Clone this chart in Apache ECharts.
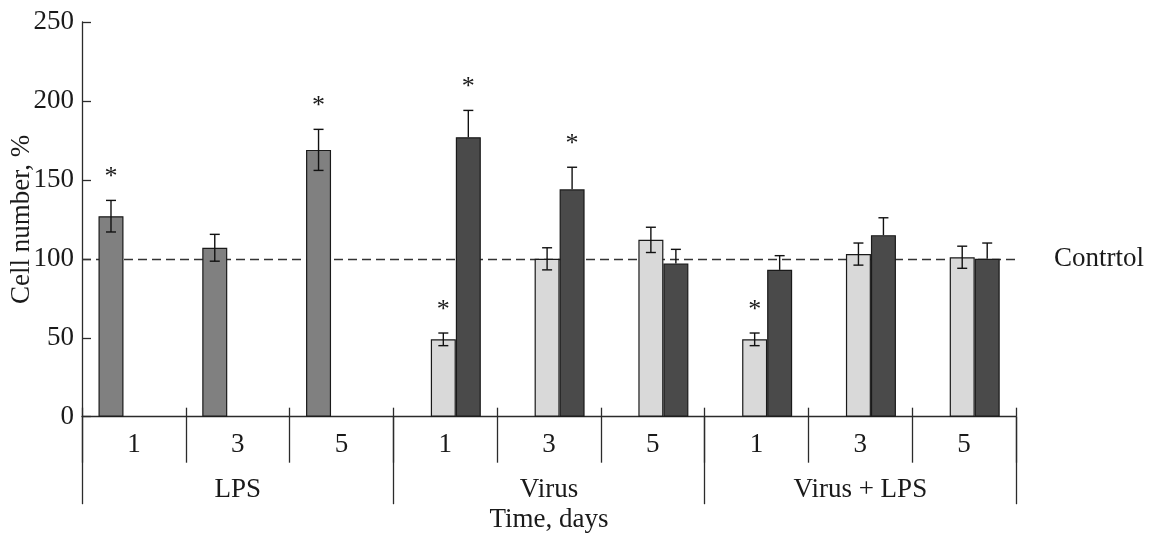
<!DOCTYPE html>
<html>
<head>
<meta charset="utf-8">
<script src="https://cdn.jsdelivr.net/npm/echarts@6/dist/echarts.min.js"></script>
<style>html,body{margin:0;padding:0;background:#fff;}#c{width:1150px;height:534px;}</style>
</head>
<body>
<div id="c"></div>
<script>
// ---- data ----
const categories = ['1', '3', '5', '1', '3', '5', '1', '3', '5'];
const groups = ['LPS', 'Virus', 'Virus + LPS'];
const yTicks = [0, 50, 100, 150, 200, 250];
const controlLevel = 100;
const lpsValues   = [127, 107, 169, null, null, null, null, null, null];
const lpsErr      = [10, 8.5, 13, null, null, null, null, null, null];
const lpsSig      = [1, 0, 1, 0, 0, 0, 0, 0, 0];
const lightValues = [null, null, null, 49, 100, 112, 49, 103, 101];
const lightErr    = [null, null, null, 4, 7, 8, 4, 7, 7];
const lightSig    = [0, 0, 0, 1, 0, 0, 1, 0, 0];
const darkValues  = [null, null, null, 177, 144, 97, 93, 115, 100];
const darkErr     = [null, null, null, 17, 14, 9, 9, 11, 10];
const darkSig     = [0, 0, 0, 1, 1, 0, 0, 0, 0];

// ---- styles ----
const FONT = 'Liberation Serif';
const TXT = '#1a1a1a';
const AX = '#2b2b2b';
const BW = 25;
const fs = 27;

function errData(vals, errs, sig) {
  const out = [];
  vals.forEach((v, i) => { if (v != null) out.push([i, v, errs[i], sig[i]]); });
  return out;
}
function errSeries(gridAxis, vals, errs, sig, offset, upperOnly) {
  return {
    type: 'custom', xAxisIndex: gridAxis, yAxisIndex: gridAxis, z: 5,
    data: errData(vals, errs, sig),
    encode: { x: 0, y: 1 },
    renderItem: function (params, api) {
      const i = api.value(0), v = api.value(1), e = api.value(2), s = api.value(3);
      const t = api.coord([i, v + e]);
      const b = api.coord([i, upperOnly ? v : v - e]);
      const x = t[0] + offset;
      const st = { stroke: '#111', lineWidth: 1.4 };
      const ch = [
        { type: 'line', shape: { x1: x, y1: t[1], x2: x, y2: b[1] }, style: st },
        { type: 'line', shape: { x1: x - 5, y1: t[1], x2: x + 5, y2: t[1] }, style: st }
      ];
      if (!upperOnly) ch.push({ type: 'line', shape: { x1: x - 5, y1: b[1], x2: x + 5, y2: b[1] }, style: st });
      if (s) ch.push({ type: 'text', x: x, y: t[1] - 23, style: { text: '*', font: '26px ' + FONT, fill: TXT, align: 'center', verticalAlign: 'middle' } });
      return { type: 'group', children: ch };
    }
  };
}

const chart = echarts.init(document.getElementById('c'), null, { renderer: 'canvas' });
const gTop = 22, gBottom = 117.3, gLeft = 82, gRight = 134;
const lpsShift = -22.9, pairShift = 10.6;
const hiddenY = { type: 'value', min: 0, max: 250, interval: 50, show: false };
const gridBase = { top: gTop, bottom: gBottom, containLabel: false, outerBoundsMode: 'none' };
const option = {
  backgroundColor: '#fff',
  animation: false,
  grid: [
    Object.assign({ left: gLeft + lpsShift, right: gRight - lpsShift }, gridBase),
    Object.assign({ left: gLeft + pairShift, right: gRight - pairShift }, gridBase),
    Object.assign({ left: gLeft, right: gRight }, gridBase)
  ],
  xAxis: [
    { type: 'category', gridIndex: 0, data: categories, show: false },
    { type: 'category', gridIndex: 1, data: categories, show: false },
    { type: 'category', gridIndex: 2, data: categories, position: 'bottom',
      axisLine: { show: true, lineStyle: { color: AX, width: 1.3 } },
      axisTick: { show: true, interval: 0, length: 46, lineStyle: { color: AX, width: 1.3 } },
      axisLabel: { interval: 0, margin: 15, fontFamily: FONT, fontSize: fs, color: TXT } },
    { type: 'category', gridIndex: 2, data: categories, position: 'bottom',
      axisLine: { show: false },
      axisTick: { show: true, inside: true, interval: 0, length: 9, lineStyle: { color: AX, width: 1.3 } },
      axisLabel: { show: false } },
    { type: 'category', gridIndex: 2, data: groups, position: 'bottom',
      axisLine: { show: false },
      axisTick: { show: true, interval: 0, length: 87.5, lineStyle: { color: AX, width: 1.3 } },
      axisLabel: { interval: 0, margin: 60, fontFamily: FONT, fontSize: fs, color: TXT },
      name: 'Time, days', nameLocation: 'middle', nameGap: 90, nameMoveOverlap: false,
      nameTextStyle: { fontFamily: FONT, fontSize: fs, color: TXT } }
  ],
  yAxis: [
    Object.assign({ gridIndex: 0 }, hiddenY),
    Object.assign({ gridIndex: 1 }, hiddenY),
    { type: 'value', gridIndex: 2, min: yTicks[0], max: yTicks[yTicks.length - 1], interval: yTicks[1] - yTicks[0],
      splitLine: { show: false },
      axisLine: { show: true, lineStyle: { color: AX, width: 1.3 } },
      axisTick: { show: true, inside: true, length: 9, lineStyle: { color: AX, width: 1.3 } },
      axisLabel: { margin: 8, fontFamily: FONT, fontSize: fs, color: TXT },
      name: 'Cell number, %', nameLocation: 'middle', nameRotate: 90, nameGap: 60, nameMoveOverlap: false,
      nameTextStyle: { fontFamily: FONT, fontSize: fs, color: TXT, verticalAlign: 'middle' } }
  ],
  series: [
    { type: 'line', xAxisIndex: 2, yAxisIndex: 2, data: [], z: 1,
      markLine: { silent: true, symbol: 'none', z: 1,
        lineStyle: { type: [9, 5], color: '#333', width: 1.3 },
        label: { show: true, position: 'end', distance: 38, formatter: 'Contrtol', fontFamily: FONT, fontSize: fs, color: TXT },
        data: [{ yAxis: controlLevel }] } },
    { type: 'bar', xAxisIndex: 0, yAxisIndex: 0, data: lpsValues, barWidth: BW, z: 3,
      itemStyle: { color: '#808080', borderColor: '#1a1a1a', borderWidth: 1.2 } },
    { type: 'bar', xAxisIndex: 1, yAxisIndex: 1, data: lightValues, barWidth: BW, barGap: '0%', z: 3,
      itemStyle: { color: '#d9d9d9', borderColor: '#1a1a1a', borderWidth: 1.2 } },
    { type: 'bar', xAxisIndex: 1, yAxisIndex: 1, data: darkValues, barWidth: BW, barGap: '0%', z: 3,
      itemStyle: { color: '#4a4a4a', borderColor: '#1a1a1a', borderWidth: 1.2 } },
    errSeries(0, lpsValues, lpsErr, lpsSig, 0, false),
    errSeries(1, lightValues, lightErr, lightSig, -BW / 2, false),
    errSeries(1, darkValues, darkErr, darkSig, BW / 2, true)
  ]
};
chart.setOption(option);
</script>
</body>
</html>
